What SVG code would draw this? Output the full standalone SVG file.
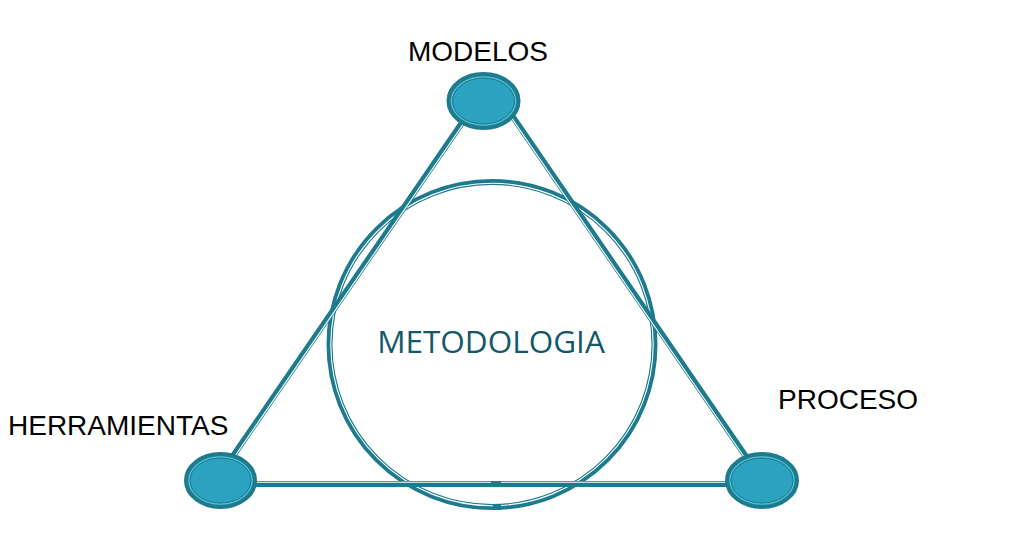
<svg xmlns="http://www.w3.org/2000/svg" width="1022" height="536" viewBox="0 0 1022 536">
<style>
.dk{fill:none;stroke:#1d7b8d;stroke-width:6}
.wh{fill:none;stroke:#ffffff;stroke-width:1.1}
.nd{fill:#2ba2bf;stroke:#1d7b8d;stroke-width:4}
.r1{fill:none;stroke:#6cc5d8;stroke-width:1}
.r2{fill:none;stroke:#1d7b8d;stroke-width:1}
.lbl{font-family:"Liberation Sans",Arial,sans-serif;font-size:28px;fill:#000}
.mid{font-family:"Open Sans","Noto Sans",sans-serif;font-size:31.5px;font-weight:500;fill:#12586a}
.mk{fill:#1d7b8d}
</style>
<rect width="1022" height="536" fill="#ffffff"/>
<g id="center">
<circle class="dk" cx="492" cy="344.5" r="162.5"/>
<circle class="wh" cx="492" cy="344.5" r="161.2"/>
<text class="mid" x="491" y="353" text-anchor="middle">METODOLOGIA</text>
</g>
<g id="connectors">
<line class="dk" x1="477" y1="101" x2="216.5" y2="480"/>
<line class="wh" x1="478.4" y1="102" x2="217.9" y2="481"/>
<line class="dk" x1="502" y1="101" x2="762" y2="480"/>
<line class="wh" x1="500.6" y1="102" x2="760.6" y2="481"/>
<line class="dk" x1="221" y1="484" x2="762" y2="484"/>
<line class="wh" x1="221" y1="482.3" x2="762" y2="482.3"/>
<rect class="mk" x="491" y="481" width="10" height="5"/>
<rect class="mk" x="493" y="505" width="8" height="5"/>
</g>
<g id="modelos">
<ellipse class="nd" cx="483.5" cy="101" rx="35" ry="27"/>
<ellipse class="r1" cx="483.5" cy="101" rx="32" ry="24"/>
<ellipse class="r2" cx="483.5" cy="101" rx="31" ry="23"/>
<text class="lbl" x="478" y="61" text-anchor="middle">MODELOS</text>
</g>
<g id="herramientas">
<ellipse class="nd" cx="220.5" cy="480.5" rx="34.5" ry="26.5"/>
<ellipse class="r1" cx="220.5" cy="480.5" rx="31.5" ry="23.5"/>
<ellipse class="r2" cx="220.5" cy="480.5" rx="30.5" ry="22.5"/>
<text class="lbl" x="8" y="435">HERRAMIENTAS</text>
</g>
<g id="proceso">
<ellipse class="nd" cx="762" cy="480.5" rx="35" ry="26.5"/>
<ellipse class="r1" cx="762" cy="480.5" rx="32" ry="23.5"/>
<ellipse class="r2" cx="762" cy="480.5" rx="31" ry="22.5"/>
<text class="lbl" x="778" y="409">PROCESO</text>
</g>
</svg>
